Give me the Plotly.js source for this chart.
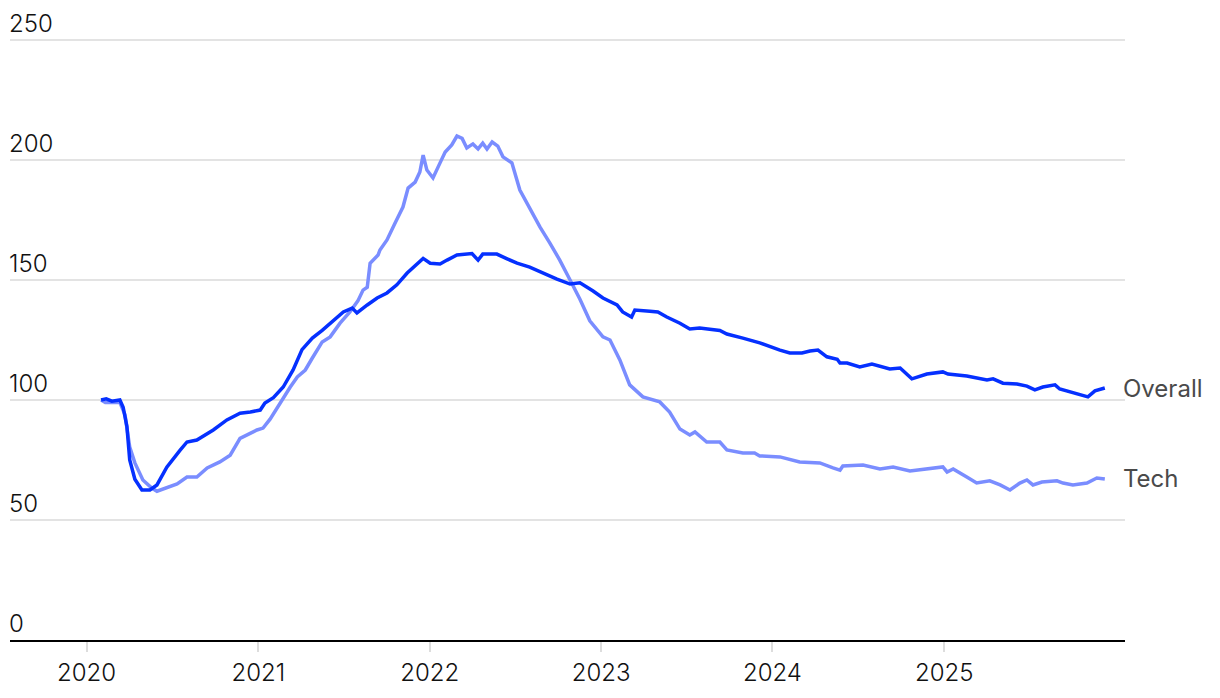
<!DOCTYPE html>
<html>
<head>
<meta charset="utf-8">
<script src="https://cdn.plot.ly/plotly-3.0.1.min.js"></script>
<style>html,body{margin:0;padding:0;background:#fff;}#chart{width:1220px;height:698px;}</style>
</head>
<body>
<div id="chart"></div>
<script>
const overallDates = ["2020-02-01","2020-02-12","2020-02-24","2020-03-12","2020-03-19","2020-03-27","2020-04-02","2020-04-13","2020-04-28","2020-05-15","2020-05-30","2020-06-20","2020-07-18","2020-08-02","2020-08-23","2020-09-27","2020-10-26","2020-11-23","2020-12-15","2021-01-05","2021-01-15","2021-02-02","2021-02-23","2021-03-16","2021-04-04","2021-04-26","2021-05-17","2021-06-03","2021-07-01","2021-07-20","2021-07-30","2021-08-21","2021-09-11","2021-10-02","2021-10-23","2021-11-14","2021-11-27","2021-12-18","2022-01-02","2022-01-08","2022-01-23","2022-02-07","2022-02-28","2022-04-01","2022-04-14","2022-04-24","2022-05-24","2022-06-15","2022-07-06","2022-08-02","2022-08-30","2022-09-29","2022-10-27","2022-11-17","2022-12-15","2023-01-05","2023-02-04","2023-02-16","2023-03-07","2023-03-14","2023-04-15","2023-05-02","2023-05-21","2023-06-18","2023-07-09","2023-07-30","2023-09-11","2023-09-26","2023-10-30","2023-12-05","2024-01-17","2024-02-07","2024-03-04","2024-03-21","2024-04-07","2024-04-26","2024-05-18","2024-05-24","2024-06-08","2024-07-05","2024-07-31","2024-08-17","2024-09-07","2024-09-29","2024-10-24","2024-11-25","2024-12-29","2025-01-09","2025-02-18","2025-04-02","2025-04-15","2025-05-06","2025-06-05","2025-06-26","2025-07-13","2025-07-30","2025-08-25","2025-09-04","2025-10-02","2025-11-03","2025-11-18","2025-12-09"];
const overallValues = [100,100.5,99.5,100,97,89,75,67,62.5,62.5,64.6,72,79,82.5,83.3,87.5,91.7,94.5,95,95.8,98.7,101,105.4,112.5,121,125.8,129,132,136.7,138.3,136.3,139.6,142.5,144.6,148,152.9,155.4,159,157,157,156.7,158.3,160.4,161,158.3,160.8,160.8,158.8,157,155.4,152.9,150.4,148.3,148.8,145.4,142.5,139.6,136.7,134.6,137.5,137,136.7,134.6,132,129.6,130,129,127.5,125.8,123.8,120.8,119.6,119.6,120.4,120.8,118,117,115.4,115.4,113.8,115,114.2,112.9,113.3,108.8,110.8,111.7,110.8,110,108.3,108.8,107,106.7,105.8,104.2,105.4,106.3,104.6,102.9,101.3,103.8,105];

const techDates = ["2020-02-01","2020-02-10","2020-03-12","2020-03-23","2020-04-02","2020-04-13","2020-04-30","2020-05-19","2020-05-30","2020-06-20","2020-07-12","2020-08-02","2020-08-23","2020-09-14","2020-10-11","2020-11-02","2020-11-23","2020-12-29","2021-01-11","2021-01-26","2021-02-16","2021-03-10","2021-03-25","2021-04-11","2021-04-26","2021-05-17","2021-06-03","2021-06-24","2021-07-15","2021-08-01","2021-08-12","2021-08-21","2021-08-27","2021-09-13","2021-09-17","2021-10-02","2021-10-19","2021-11-05","2021-11-16","2021-12-01","2021-12-11","2021-12-18","2021-12-26","2022-01-08","2022-01-23","2022-02-03","2022-02-17","2022-02-28","2022-03-11","2022-03-21","2022-04-03","2022-04-14","2022-04-24","2022-05-03","2022-05-14","2022-05-26","2022-06-06","2022-06-25","2022-07-12","2022-08-02","2022-08-24","2022-09-14","2022-10-05","2022-10-27","2022-11-17","2022-12-08","2023-01-05","2023-01-20","2023-02-10","2023-03-03","2023-03-31","2023-05-06","2023-05-27","2023-06-18","2023-07-09","2023-07-20","2023-08-14","2023-09-11","2023-09-26","2023-10-30","2023-11-24","2023-12-05","2024-01-17","2024-02-28","2024-04-11","2024-05-09","2024-05-24","2024-05-30","2024-07-12","2024-08-17","2024-09-14","2024-10-20","2024-11-25","2024-12-29","2025-01-07","2025-01-20","2025-02-18","2025-03-11","2025-04-08","2025-04-30","2025-05-21","2025-06-11","2025-06-26","2025-07-09","2025-07-28","2025-08-29","2025-09-11","2025-10-02","2025-11-01","2025-11-22","2025-12-09"];
const techValues = [100,99,99,93.8,80.4,73.8,66.7,63.3,62,63.3,65,67.9,67.9,71.7,74.2,77,84,87.5,88.3,92,98.7,105.4,109.6,112.5,117.5,124.2,126.3,132,136.7,141.3,145.8,147,157,160.4,162.5,166.7,173.6,180.4,188.3,190.8,195,202,195.8,192.5,198.8,203.3,206.3,210,209,205,206.7,204.6,207,204.6,207.5,205.8,201.3,198.8,187.5,180,172,165.4,158.3,150,142,133,126.3,125,116.7,106.3,101.3,99.2,95,87.9,85.4,86.7,82.5,82.5,79.2,77.9,77.9,76.7,76.3,74.2,73.8,71.7,70.8,72.5,72.9,71.3,72.1,70.4,71.3,72.1,70,71.3,67.9,65.4,66.3,64.6,62.5,65.4,66.7,64.6,65.8,66.3,65.4,64.6,65.4,67.5,67.1];

const seriesNames = ["Overall", "Tech"];
const yTicks = [0, 50, 100, 150, 200, 250];
const xTicks = ["2020-01-01","2021-01-01","2022-01-01","2023-01-01","2024-01-01","2025-01-01"];
const xTickLabels = ["2020","2021","2022","2023","2024","2025"];

const FONT = "Inter, 'Liberation Sans', Arial, sans-serif";

const traces = [
  {x: techDates, y: techValues, name: seriesNames[1], type: "scatter", mode: "lines",
   line: {color: "#7a8dff", width: 3.5, shape: "linear"}},
  {x: overallDates, y: overallValues, name: seriesNames[0], type: "scatter", mode: "lines",
   line: {color: "#0530ff", width: 3.5, shape: "linear"}}
];

const layout = {
  width: 1220, height: 698,
  margin: {l: 10, r: 95, t: 4, b: 58},
  paper_bgcolor: "#fff", plot_bgcolor: "#fff",
  showlegend: false,
  font: {family: FONT, size: 24, color: "#111"},
  xaxis: {
    type: "date",
    range: ["2019-07-22", "2026-01-21"],
    tickvals: xTicks, ticktext: xTickLabels,
    showgrid: false, zeroline: false,
    showline: true, linecolor: "#000", linewidth: 2,
    ticks: "outside", ticklen: 10, tickwidth: 2, tickcolor: "#dddddd",
    tickfont: {family: FONT, size: 24, color: "#111", weight: 300},
    fixedrange: true
  },
  yaxis: {
    range: [0, 265],
    tickvals: yTicks,
    ticklabelposition: "inside top",
    ticklabelstandoff: -4,
    showgrid: true, gridcolor: "#e3e3e3", gridwidth: 1.5,
    zeroline: false, showline: false, ticks: "",
    tickfont: {family: FONT, size: 24, color: "#111", weight: 300},
    fixedrange: true
  },
  annotations: [
    {xref: "paper", yref: "y", x: 1, y: overallValues[overallValues.length-1], xanchor: "left", yanchor: "middle",
     text: seriesNames[0], showarrow: false, xshift: -4, font: {family: FONT, size: 24, color: "#4a4a4a"}},
    {xref: "paper", yref: "y", x: 1, y: techValues[techValues.length-1], xanchor: "left", yanchor: "middle",
     text: seriesNames[1], showarrow: false, xshift: -4, font: {family: FONT, size: 24, color: "#4a4a4a"}}
  ]
};

Plotly.newPlot("chart", traces, layout, {displayModeBar: false, staticPlot: true});
</script>
</body>
</html>
